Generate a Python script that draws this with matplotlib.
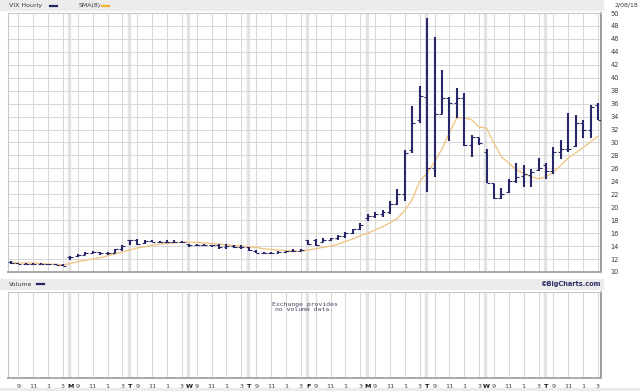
import numpy as np
import matplotlib
matplotlib.use("Agg")
import matplotlib.pyplot as plt
from matplotlib.patches import Rectangle

# hourly VIX, 8 bars per session, 10 sessions
days = ["", "M", "T", "W", "T", "F", "M", "T", "W", "T"]
hour_labels = ["9", "11", "1", "3"]
y_ticks = list(range(10, 52, 2))

opens = [11.6, 11.4, 11.3, 11.3, 11.3, 11.2, 11.2, 11.1,
         12.3, 12.4, 12.7, 13.0, 13.1, 12.9, 13.0, 13.5,
         14.9, 15.0, 14.5, 14.8, 14.7, 14.7, 14.7, 14.7,
         14.3, 14.1, 14.2, 14.1, 14.2, 13.8, 14.0, 13.9,
         13.8, 13.3, 13.0, 13.0, 13.0, 13.1, 13.2, 13.3,
         14.9, 14.9, 14.7, 15.0, 15.2, 15.6, 16.0, 16.6,
         18.4, 18.6, 19.0, 19.3, 20.5, 22.0, 28.8, 33.5,
         37.0, 26.1, 34.4, 36.9, 36.1, 36.9, 29.6, 30.8,
         28.5, 23.7, 21.5, 22.3, 24.0, 24.8, 25.0, 25.8,
         26.5, 25.6, 28.5, 29.0, 29.5, 33.0, 31.9, 35.8]
highs = [11.7, 11.4, 11.4, 11.4, 11.4, 11.3, 11.3, 11.2,
         12.4, 12.8, 13.1, 13.3, 13.1, 13.1, 13.6, 14.1,
         15.0, 15.1, 15.0, 14.9, 14.8, 14.9, 14.9, 14.8,
         14.4, 14.3, 14.3, 14.2, 14.3, 14.3, 14.2, 14.1,
         13.9, 13.4, 13.1, 13.1, 13.2, 13.3, 13.5, 13.6,
         15.0, 15.1, 15.2, 15.3, 15.7, 16.2, 16.7, 17.5,
         19.0, 19.3, 19.5, 21.0, 22.8, 28.8, 35.6, 38.7,
         49.2, 46.3, 41.2, 37.0, 38.4, 37.6, 31.1, 30.7,
         29.0, 23.6, 23.0, 24.4, 26.8, 26.5, 25.9, 27.6,
         26.8, 29.3, 30.4, 34.6, 34.2, 33.5, 35.8, 36.1]
lows = [11.3, 11.2, 11.2, 11.2, 11.2, 11.1, 11.1, 10.9,
        11.9, 12.3, 12.6, 12.9, 12.7, 12.7, 12.9, 13.3,
        14.2, 14.2, 14.4, 14.6, 14.5, 14.5, 14.5, 14.5,
        13.9, 14.0, 14.0, 13.9, 13.5, 13.6, 13.7, 13.6,
        13.3, 12.9, 12.8, 12.8, 12.9, 13.0, 13.1, 13.2,
        14.2, 14.0, 14.6, 14.8, 15.0, 15.3, 15.8, 16.5,
        17.8, 18.3, 18.5, 19.0, 20.3, 21.0, 28.4, 33.0,
        22.4, 24.7, 34.4, 30.2, 33.8, 29.5, 27.8, 29.6,
        23.7, 21.3, 21.3, 22.2, 23.7, 23.1, 23.1, 25.6,
        24.4, 25.1, 27.5, 28.5, 29.3, 30.7, 30.7, 33.5]
closes = [11.4, 11.3, 11.3, 11.3, 11.2, 11.2, 11.1, 11.0,
          12.3, 12.7, 13.0, 13.1, 12.9, 13.0, 13.5, 14.0,
          15.0, 14.3, 14.8, 14.7, 14.7, 14.7, 14.7, 14.6,
          14.1, 14.2, 14.1, 14.1, 13.8, 14.0, 13.9, 13.8,
          13.4, 13.0, 12.9, 13.0, 13.1, 13.2, 13.3, 13.4,
          14.3, 14.2, 15.0, 15.2, 15.6, 16.0, 16.6, 17.3,
          18.6, 19.0, 19.3, 20.5, 22.0, 28.4, 33.0, 37.2,
          26.1, 34.4, 36.9, 36.1, 36.9, 29.6, 30.8, 29.9,
          23.7, 21.5, 22.0, 24.0, 24.7, 25.1, 25.5, 26.0,
          25.6, 28.5, 29.0, 29.0, 33.0, 31.9, 35.5, 33.5]
sma8 = [11.5, 11.4, 11.4, 11.4, 11.3, 11.2, 11.2, 11.1,
        11.3, 11.6, 11.8, 12.0, 12.2, 12.5, 12.8, 13.1,
        13.4, 13.7, 13.9, 14.1, 14.3, 14.4, 14.5, 14.6,
        14.6, 14.6, 14.5, 14.4, 14.3, 14.2, 14.1, 14.0,
        13.9, 13.8, 13.6, 13.5, 13.4, 13.3, 13.3, 13.2,
        13.4, 13.6, 13.8, 14.0, 14.3, 14.7, 15.1, 15.6,
        16.0, 16.5, 17.0, 17.6, 18.3, 19.5, 21.2, 24.0,
        25.3, 27.0, 29.0, 31.5, 33.8, 33.8, 33.5, 32.4,
        32.2, 29.9, 27.8, 26.8, 25.8, 25.2, 24.7, 24.4,
        24.7, 25.4, 26.5, 27.6, 28.4, 29.2, 30.1, 31.0]

navy = "#27276a"
sma_col = "#f0c27c"
grid_col = "#d8d8d8"
day_col = "#e3e3e3"
txt = "#3a3a3a"

n = len(closes)
x = np.arange(n)
W, H = 640, 391

fig = plt.figure(figsize=(W / 100, H / 100), dpi=100)
fig.patch.set_facecolor("white")

def fx(px):
    return px / W

def fy(py):
    return 1 - py / H

# grey header strips
fig.patches.append(Rectangle((0, fy(10)), fx(603), 10 / H, transform=fig.transFigure,
                             color="#ececec", zorder=0))
fig.patches.append(Rectangle((0, fy(289)), fx(603), 10 / H, transform=fig.transFigure,
                             color="#ececec", zorder=0))
fig.patches.append(Rectangle((0, 0), fx(640), 3 / H, transform=fig.transFigure,
                             color="#ececec", zorder=0))

ax = fig.add_axes([fx(8), fy(272), fx(593), 259 / H])
axv = fig.add_axes([fx(8), fy(378), fx(593), 86 / H])

thin_pos = [8 * d + k for d in range(len(days)) for k in (1, 3, 5, 7)]
day_pos = [8 * d for d in range(1, len(days))]

for a in (ax, axv):
    a.set_xlim(-0.4, n - 0.6)
    for p in thin_pos:
        a.axvline(p, color=grid_col, lw=0.75, zorder=1)
    for p in day_pos:
        a.axvline(p - 0.15, color=day_col, lw=2.4, zorder=1)
    for s in ("left", "top"):
        a.spines[s].set_color("#c8c8c8")
        a.spines[s].set_linewidth(0.8)
    a.spines["right"].set_color("#8a8a8a")
    a.spines["right"].set_linewidth(1.2)
    a.spines["bottom"].set_color("#a8a8a8")
    a.spines["bottom"].set_linewidth(1.4)

# price panel
ax.set_ylim(10, 50)
for v in y_ticks[1:-1]:
    ax.axhline(v, color=grid_col, lw=0.75, zorder=1)
ax.set_xticks([])
ax.yaxis.tick_right()
ax.set_yticks(y_ticks)
ax.set_yticklabels([str(v) for v in y_ticks])
ax.tick_params(axis="y", length=0, pad=7, labelsize=4.8, labelcolor=txt)

ax.plot(x, sma8, color=sma_col, lw=0.9, zorder=3)
ax.vlines(x, lows, highs, color=navy, lw=1.5, zorder=4)
ax.hlines(opens, x - 0.4, x, color=navy, lw=0.8, zorder=4)
ax.hlines(closes, x, x + 0.4, color=navy, lw=0.8, zorder=4)

# volume panel
axv.set_ylim(0, 1)
axv.set_yticks([])
tick_x, tick_lbl, tick_bold = [], [], []
for d, name in enumerate(days):
    if name:
        tick_x.append(8 * d)
        tick_lbl.append(name)
        tick_bold.append(True)
    for k, h in zip((1, 3, 5, 7), hour_labels):
        tick_x.append(8 * d + k)
        tick_lbl.append(h)
        tick_bold.append(False)
axv.set_xticks(tick_x)
axv.set_xticklabels(tick_lbl)
axv.tick_params(axis="x", length=0, pad=4, labelsize=4.6, labelcolor=txt)
for lbl, b in zip(axv.get_xticklabels(), tick_bold):
    if b:
        lbl.set_fontweight("bold")
        lbl.set_color("#111111")
axv.text(0.5, 0.82, "Exchange provides\nno volume data.", transform=axv.transAxes,
         ha="center", va="center", fontsize=4.6, family="DejaVu Sans Mono",
         color="#444466", linespacing=1.0)

# header texts
fig.text(fx(9), fy(5.5), "VIX Hourly", fontsize=4.5, color=txt, va="center")
fig.text(fx(79), fy(5.5), "SMA(8)", fontsize=4.5, color=txt, va="center")
fig.add_artist(plt.Line2D([fx(50), fx(57)], [fy(5.5), fy(5.5)], transform=fig.transFigure,
                          color=navy, lw=1.6))
fig.add_artist(plt.Line2D([fx(102), fx(109)], [fy(5.5), fy(5.5)], transform=fig.transFigure,
                          color="#f0b030", lw=1.6))
fig.text(fx(638), fy(5), "2/08/18", fontsize=4.5, color=txt, va="center", ha="right")

fig.text(fx(9), fy(284), "Volume", fontsize=4.5, color=txt, va="center")
fig.add_artist(plt.Line2D([fx(37), fx(44)], [fy(284), fy(284)], transform=fig.transFigure,
                          color=navy, lw=1.6))
fig.text(fx(601), fy(284), "\u00a9BigCharts.com", fontsize=4.8, color="#2e2e66",
         fontweight="bold", va="center", ha="right")

fig.savefig("out.png", dpi=100)
